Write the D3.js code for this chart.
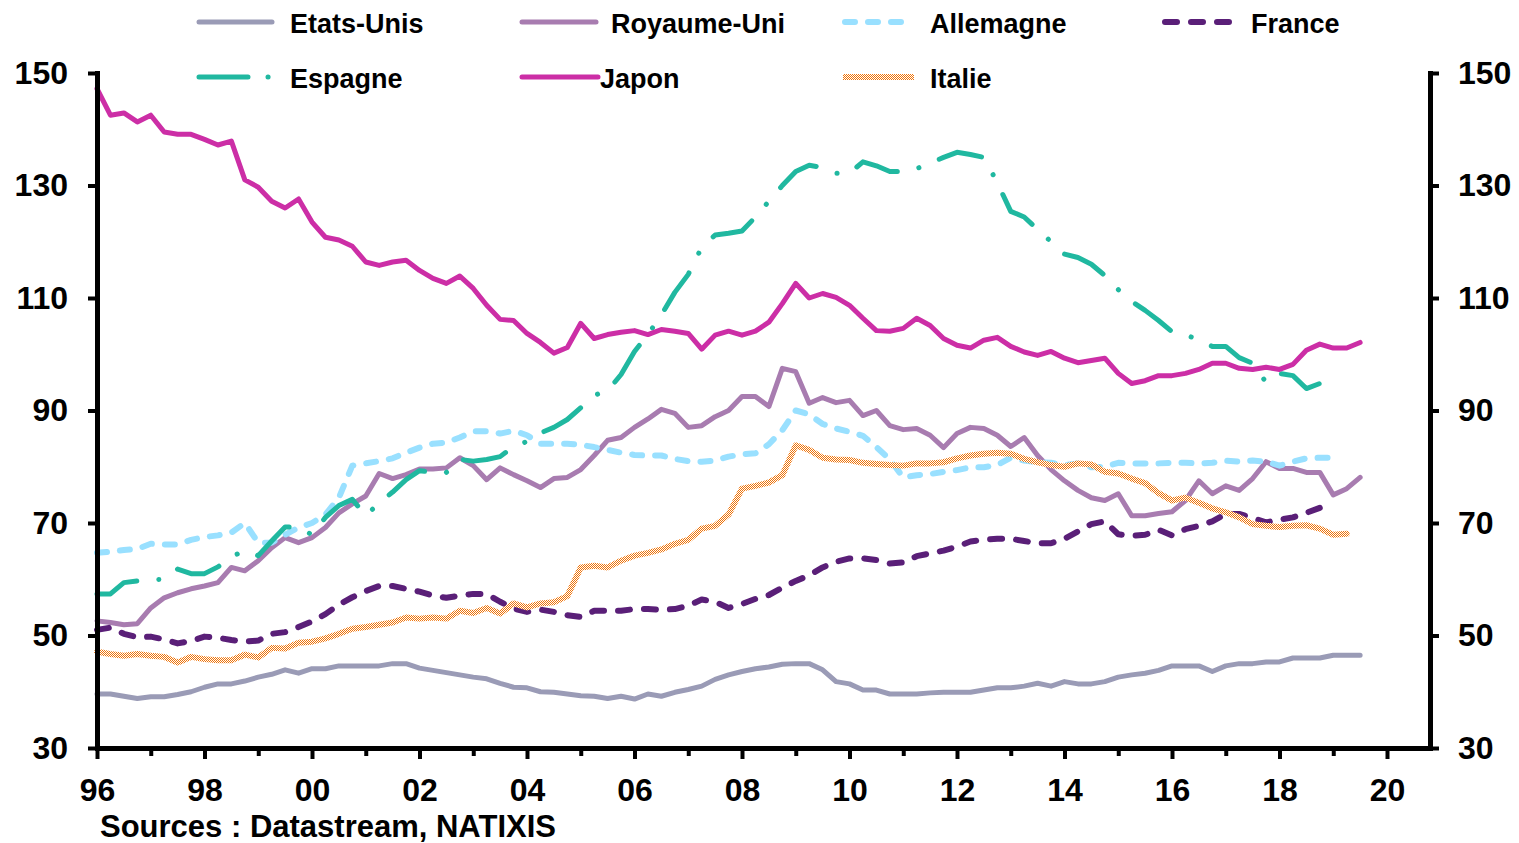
<!DOCTYPE html>
<html lang="fr">
<head>
<meta charset="utf-8">
<title>Chart</title>
<style>
  body { margin: 0; background: #fff; }
  svg text { font-family: "Liberation Sans", Arial, sans-serif; font-weight: bold; fill: #000; }
</style>
</head>
<body>
<div id="chart"></div>
<script src="https://d3js.org/d3.v7.min.js"></script>
<script>
// quarterly series, first point = 1996 Q1
var firstYear = 1996;

var etatsUnis = [39.6,39.6,39.2,38.8,39.1,39.1,39.5,40.0,40.8,41.4,
  41.4,41.9,42.6,43.1,43.9,43.3,44.1,44.1,44.6,44.6,
  44.6,44.6,45.0,45.0,44.2,43.8,43.4,43.0,42.6,42.3,
  41.5,40.8,40.7,40.0,39.9,39.6,39.3,39.2,38.8,39.2,
  38.7,39.6,39.2,39.9,40.4,41.0,42.2,43.0,43.6,44.1,
  44.4,44.9,45.0,45.0,43.9,41.8,41.4,40.3,40.3,39.6,
  39.6,39.6,39.8,39.9,39.9,39.9,40.3,40.7,40.7,41.0,
  41.5,41.0,41.8,41.4,41.4,41.8,42.6,43.0,43.3,43.8,
  44.6,44.6,44.6,43.6,44.6,45.0,45.0,45.3,45.3,46.0,
  46.0,46.0,46.5,46.5,46.5];

var royaumeUni = [52.6,52.3,51.9,52.1,54.9,56.7,57.6,58.3,58.8,59.4,
  62.1,61.5,63.3,65.6,67.4,66.5,67.4,69.2,71.8,73.4,
  74.8,78.8,77.9,78.6,79.6,79.6,79.8,81.6,80.2,77.7,
  79.8,78.6,77.5,76.3,77.9,78.1,79.5,82.0,84.7,85.2,
  87.0,88.5,90.2,89.5,87.0,87.3,88.9,90.0,92.5,92.5,
  90.7,97.5,96.9,91.3,92.3,91.4,91.8,89.1,90.0,87.3,
  86.6,86.8,85.6,83.4,85.9,87.0,86.8,85.6,83.6,85.2,
  82.0,79.5,77.5,75.8,74.5,74.0,75.2,71.3,71.3,71.7,
  72.0,74.0,77.5,75.2,76.6,75.8,77.9,80.9,79.7,79.7,
  79.0,79.0,75.0,76.1,78.1];

var allemagne = [64.7,64.9,65.2,65.4,66.3,66.2,66.2,67.0,67.5,67.8,
  68.3,70.0,66.5,66.5,67.9,69.2,70.0,71.5,74.5,80.2,
  80.6,81.0,81.5,82.5,83.4,84.1,84.3,85.2,86.3,86.3,
  85.9,86.4,85.6,84.1,84.1,84.1,83.9,83.5,83.0,82.5,
  82.1,82.0,82.0,81.4,81.0,80.9,81.1,81.8,82.2,82.4,
  84.0,86.5,90.0,89.3,87.6,86.8,86.2,85.5,83.5,81.3,
  78.1,78.5,78.7,79.1,79.4,79.9,79.9,80.3,81.6,81.1,
  80.8,80.7,80.3,80.6,79.9,80.0,80.7,80.6,80.6,80.6,
  80.7,80.7,80.6,80.7,81.1,80.9,81.1,80.9,80.2,80.9,
  81.5,81.6,81.6];

var france = [51.0,51.4,50.3,49.7,49.8,49.3,48.6,49.0,49.8,49.6,
  49.2,48.9,49.1,50.3,50.6,51.5,52.5,53.8,55.5,56.8,
  57.9,58.8,58.8,58.3,57.8,57.1,56.7,57.1,57.4,57.4,
  56.0,54.8,54.2,54.6,54.2,53.6,53.3,54.4,54.4,54.4,
  54.7,54.7,54.6,54.7,55.3,56.4,56.0,54.9,55.6,56.5,
  57.2,58.5,59.7,60.7,62.1,63.1,63.7,63.7,63.4,62.8,
  63.0,64.1,64.6,65.1,65.8,66.7,67.0,67.2,67.2,66.8,
  66.4,66.4,67.2,68.5,69.8,70.3,68.0,67.7,67.9,68.8,
  67.8,68.9,69.5,70.3,71.6,71.6,70.9,70.1,70.6,71.0,
  71.8,72.7,73.0];

var espagne = [57.4,57.4,59.4,59.7,59.9,60.0,61.8,61.0,61.0,62.2,
  64.0,65.1,64.2,66.8,69.3,69.3,67.9,71.0,73.1,74.2,
  71.3,73.6,75.5,77.7,79.3,79.0,79.0,81.3,81.0,81.3,
  81.8,83.6,84.5,86.0,87.0,88.4,90.5,92.7,93.5,96.4,
  100.5,103.5,107.0,111.0,114.2,119.0,121.2,121.5,121.9,124.4,
  127.2,130.0,132.5,133.6,133.2,132.2,132.2,134.2,133.5,132.5,
  132.5,133.0,134.0,135.0,135.9,135.5,135.0,130.5,125.4,124.4,
  122.2,120.0,117.8,117.2,116.0,114.0,111.5,109.4,107.8,106.0,
  104.0,103.5,102.5,101.4,101.4,99.4,98.4,95.0,96.6,96.2,
  93.9,94.8];

var japon = [147.2,142.5,142.9,141.3,142.5,139.5,139.1,139.1,138.2,137.2,
  137.9,131.0,129.7,127.2,126.0,127.6,123.5,120.8,120.3,119.2,
  116.4,115.8,116.4,116.7,114.9,113.5,112.6,113.9,111.7,108.7,
  106.2,106.0,103.7,102.1,100.2,101.2,105.5,102.8,103.5,103.9,
  104.2,103.5,104.4,104.1,103.7,100.9,103.4,104.1,103.4,104.1,
  105.7,109.0,112.6,110.0,110.8,110.1,108.7,106.4,104.2,104.1,
  104.6,106.4,105.1,102.8,101.6,101.1,102.5,103.0,101.4,100.4,
  99.8,100.5,99.3,98.5,98.9,99.3,96.6,94.8,95.3,96.2,
  96.2,96.6,97.3,98.4,98.4,97.5,97.3,97.7,97.3,98.2,
  100.7,101.8,101.1,101.1,102.1];

var italie = [47.1,46.7,46.4,46.7,46.4,46.2,45.2,46.2,45.8,45.6,
  45.6,46.6,46.1,47.8,47.7,48.7,48.9,49.5,50.3,51.2,
  51.5,51.9,52.3,53.2,53.0,53.2,53.0,54.4,54.0,54.9,
  53.9,55.7,55.0,55.7,55.9,57.0,62.1,62.4,62.1,63.3,
  64.2,64.7,65.3,66.3,67.0,69.0,69.5,71.5,76.1,76.6,
  77.2,78.5,83.8,83.0,81.6,81.3,81.2,80.7,80.5,80.3,
  80.2,80.6,80.6,80.8,81.5,82.0,82.3,82.5,82.3,81.4,
  80.8,80.3,80.0,80.6,80.4,79.1,78.8,77.9,77.1,75.3,
  74.0,74.5,73.6,72.6,71.9,71.0,69.8,69.5,69.3,69.5,
  69.6,69.0,67.9,68.1];

var yTicks = [30, 50, 70, 90, 110, 130, 150];
var xMajorYears = [1996,1998,2000,2002,2004,2006,2008,2010,2012,2014,2016,2018,2020];
var xMajorLabels = ["96","98","00","02","04","06","08","10","12","14","16","18","20"];
var xMinorYears = [1997,1999,2001,2003,2005,2007,2009,2011,2013,2015,2017,2019];

var width = 1519,
    height = 843;

var svg = d3.select("#chart")
    .append("svg")
    .attr("width", width)
    .attr("height", height);

// orange checker used for the Italie line
var pat = svg.append("defs").append("pattern")
    .attr("id", "damier")
    .attr("patternUnits", "userSpaceOnUse")
    .attr("width", 2)
    .attr("height", 2);
pat.append("rect").attr("width", 2).attr("height", 2).attr("fill", "#ffffff");
pat.append("rect").attr("width", 1).attr("height", 1).attr("fill", "#ef740a");
pat.append("rect").attr("x", 1).attr("y", 1).attr("width", 1).attr("height", 1).attr("fill", "#ef740a");

var x = d3.scaleLinear().domain([1996, 2020.8]).range([97, 1430]);
var y = d3.scaleLinear().domain([30, 150]).range([748, 73]);

var series = [
  {name: "Etats-Unis",  values: etatsUnis,  color: "#9a9bb6", width: 5, dash: null},
  {name: "Royaume-Uni", values: royaumeUni, color: "#a87cb0", width: 5, dash: null},
  {name: "Allemagne",   values: allemagne,  color: "#99e0ff", width: 6, dash: "10 13"},
  {name: "France",      values: france,     color: "#5a1f78", width: 6, dash: "12 14"},
  {name: "Espagne",     values: espagne,    color: "#20b8a0", width: 5, dash: "44 22 0.1 22"},
  {name: "Japon",       values: japon,      color: "#cc2ea6", width: 5, dash: null},
  {name: "Italie",      values: italie,     color: "url(#damier)", width: 6, dash: null}
];

var line = d3.line()
    .x(function(d, i) { return x(firstYear + i / 4); })
    .y(function(d) { return y(d); });

svg.append("g")
    .selectAll("path")
    .data(series)
  .enter().append("path")
    .attr("d", function(d) { return line(d.values); })
    .attr("fill", "none")
    .attr("stroke", function(d) { return d.color; })
    .attr("stroke-width", function(d) { return d.width; })
    .attr("stroke-dasharray", function(d) { return d.dash; })
    .attr("stroke-linejoin", "round")
    .attr("stroke-linecap", "round");

// axes
function styleAxis(g) {
  g.attr("font-size", 32)
   .attr("font-family", "'Liberation Sans', Arial, sans-serif")
   .attr("font-weight", "bold");
  g.select(".domain").attr("stroke", "#000").attr("stroke-width", 5).attr("stroke-linecap", "square");
  g.selectAll(".tick line").attr("stroke", "#000").attr("stroke-width", 4);
  g.selectAll(".tick text").attr("fill", "#000");
}

svg.append("g")
    .attr("transform", "translate(97,0)")
    .call(d3.axisLeft(y).tickValues(yTicks).tickSize(9).tickSizeOuter(0).tickPadding(20))
    .call(styleAxis);

svg.append("g")
    .attr("transform", "translate(1430,0)")
    .call(d3.axisRight(y).tickValues(yTicks).tickSize(9).tickSizeOuter(0).tickPadding(19))
    .call(styleAxis);

svg.append("g")
    .attr("transform", "translate(0,748)")
    .call(d3.axisBottom(x).tickValues(xMinorYears).tickSize(8).tickSizeOuter(0).tickFormat(""))
    .call(styleAxis);

svg.append("g")
    .attr("transform", "translate(0,748)")
    .call(d3.axisBottom(x).tickValues(xMajorYears).tickSize(11).tickSizeOuter(0).tickPadding(19)
      .tickFormat(function(d, i) { return xMajorLabels[i]; }))
    .call(styleAxis);

// legend
var legendPos = [
  {x1: 199, x2: 272, tx: 290, y: 22},
  {x1: 522, x2: 596, tx: 611, y: 22},
  {x1: 845, x2: 910, tx: 930, y: 22},
  {x1: 1165, x2: 1230, tx: 1251, y: 22},
  {x1: 199, x2: 270, tx: 290, y: 77, dash: "49 20 0.1 10"},
  {x1: 522, x2: 598, tx: 600, y: 77},
  {x1: 843, x2: 914, tx: 930, y: 77}
];

var legend = svg.append("g")
    .selectAll("g")
    .data(series)
  .enter().append("g");

legend.append("line")
    .attr("x1", function(d, i) { return legendPos[i].x1; })
    .attr("x2", function(d, i) { return legendPos[i].x2; })
    .attr("y1", function(d, i) { return legendPos[i].y; })
    .attr("y2", function(d, i) { return legendPos[i].y; })
    .attr("stroke", function(d) { return d.color; })
    .attr("stroke-width", function(d) { return d.width; })
    .attr("stroke-dasharray", function(d, i) { return legendPos[i].dash || d.dash; })
    .attr("stroke-linecap", function(d) { return d.name === "Italie" ? "butt" : "round"; });

legend.append("text")
    .attr("x", function(d, i) { return legendPos[i].tx; })
    .attr("y", function(d, i) { return legendPos[i].y + 11; })
    .attr("font-size", 27)
    .text(function(d) { return d.name; });

svg.append("text")
    .attr("x", 100)
    .attr("y", 837)
    .attr("font-size", 31)
    .text("Sources : Datastream, NATIXIS");
</script>
</body>
</html>
